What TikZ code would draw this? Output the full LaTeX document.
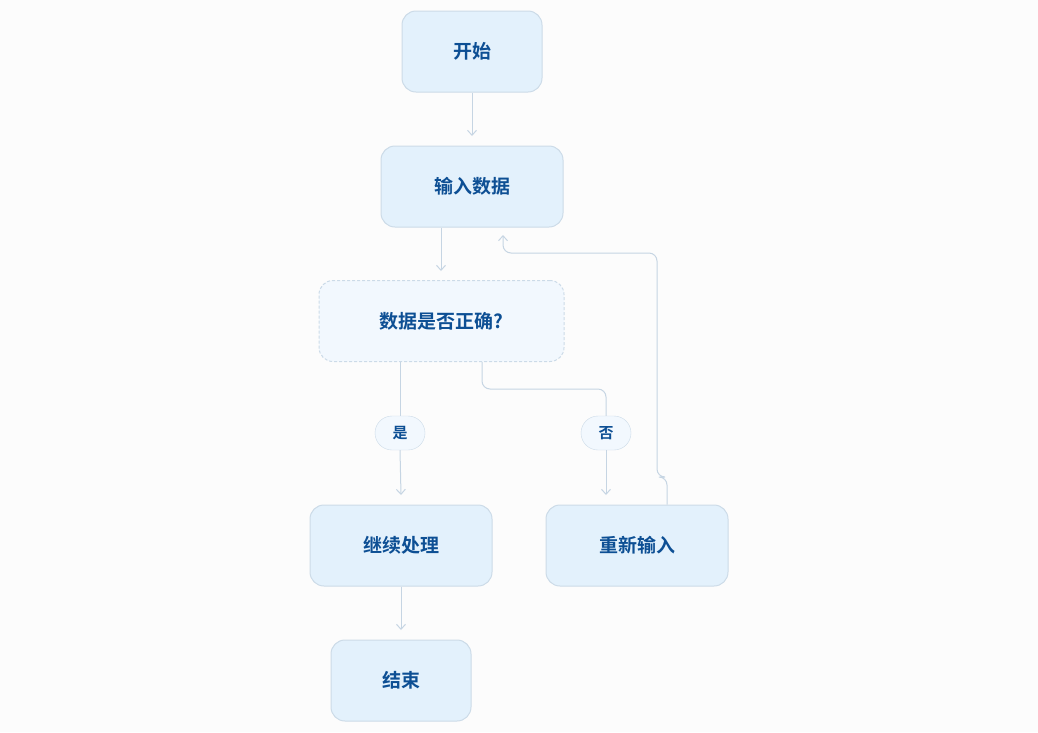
\documentclass[tikz,border=0pt]{standalone}
\usepackage{fontspec}
\setmainfont{Noto Sans CJK SC}[BoldFont={* Bold}]
\usetikzlibrary{arrows.meta}
\definecolor{bg}{HTML}{FCFCFC}
\definecolor{boxfill}{HTML}{E3F1FC}
\definecolor{decfill}{HTML}{F2F8FE}
\definecolor{bord}{HTML}{CCDBE8}
\definecolor{txt}{HTML}{0D4F94}
\definecolor{ln}{HTML}{C6D5E3}
\begin{document}
\begin{tikzpicture}[x=1pt,y=-1pt,
  box/.style={draw=bord,fill=boxfill,rounded corners=14pt,line width=1pt,minimum height=81pt,text=txt,font=\fontsize{19}{22}\selectfont\bfseries},
  dec/.style={box,fill=decfill,dashed,dash pattern=on 3pt off 2pt},
  lab/.style={draw=bord,fill=decfill,rounded corners=17pt,minimum width=50pt,minimum height=34pt,inner sep=0pt,text=txt,font=\fontsize{15}{18}\selectfont\bfseries},
  arr/.style={draw=ln,line width=1pt,-{Straight Barb[length=5pt,width=9pt]},rounded corners=8pt},
  seg/.style={draw=ln,line width=1pt}]
\fill[bg] (0,0) rectangle (1038,732);
\useasboundingbox (0,0) rectangle (1038,732);
\node[box,minimum width=140pt] (start) at (472,51.5) {开始};
\node[box,minimum width=182pt] (input) at (472,186.5) {输入数据};
\node[dec,minimum width=245pt] (check) at (441.5,321) {数据是否正确?};
\node[lab] (yes) at (400,433) {是};
\node[lab] (no) at (606,433) {否};
\node[box,minimum width=182pt] (cont) at (401,545.5) {继续处理};
\node[box,minimum width=182pt] (re) at (637,545.5) {重新输入};
\node[box,minimum width=140pt] (end) at (401,680.5) {结束};
\coordinate (a1) at (472,136);
\coordinate (a2) at (441,271);
\coordinate (a3) at (401,495);
\coordinate (a4) at (606,495);
\coordinate (a5) at (503,235);
\coordinate (a6) at (401,630);
\draw[arr] (start.south) -- (a1);
\draw[arr] (input.south -| a2) -- (a2);
\draw[seg] (check.south -| yes) -- (yes.north);
\draw[arr] (yes.south) -- (a3);
\draw[seg,rounded corners=8pt] (check.south -| 482,0) |- (606,389) -- (no.north);
\draw[arr] (no.south) -- (a4);
\draw[arr] (re.north -| 667,0) -- (667,477) -- (657,477) |- (503,253) -- (a5);
\draw[arr] (cont.south) -- (a6);
\end{tikzpicture}
\end{document}
